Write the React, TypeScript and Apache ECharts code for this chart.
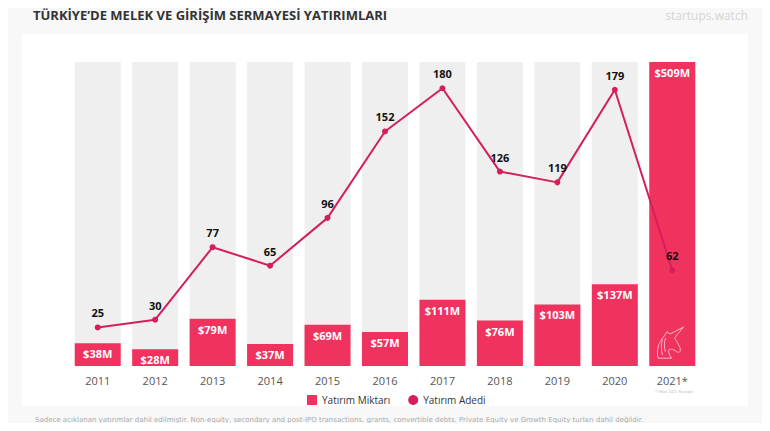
import React, { useEffect, useRef } from "react";
import * as echarts from "echarts";

const years = ["2011", "2012", "2013", "2014", "2015", "2016", "2017", "2018", "2019", "2020", "2021*"];
const amounts = [38, 28, 79, 37, 69, 57, 111, 76, 103, 137, 509];
const counts = [25, 30, 77, 65, 96, 152, 180, 126, 119, 179, 62];

const unicorn =
  "M4 40 C2 30 4 20 12 12 L16 6 L20 9 L38 0 L26 14 C30 20 34 26 34 30 C33 33 30 33 28 31 C24 28 20 28 18 30 C18 34 20 37 22 40 Z M10 16 C8 22 8 30 10 36 M14 14 C12 20 12 26 14 32";

export default function App() {
  const ref = useRef<HTMLDivElement>(null);
  useEffect(() => {
    if (!ref.current) return;
    try {
      echarts.graphic.registerShape("unicorn", echarts.graphic.extendPath(unicorn, {}) as any);
    } catch (e) {}
    const chart = echarts.init(ref.current, null, { renderer: "svg" });
    chart.setOption({
      animation: false,
      backgroundColor: "#f8f8f8",
      textStyle: { fontFamily: "Open Sans, sans-serif" },
      grid: { left: 69, right: 69, top: 62, bottom: 65 },
      legend: {
        left: 302,
        top: 390,
        itemWidth: 10,
        itemHeight: 10,
        itemGap: 18,
        textStyle: { color: "#333", fontSize: 10, fontFamily: "Open Sans, sans-serif" },
        data: [
          { name: "Yatırım Miktarı", icon: "rect" },
          { name: "Yatırım Adedi", icon: "circle" },
        ],
      },
      xAxis: {
        type: "category",
        data: years,
        axisLine: { show: false },
        axisTick: { show: false },
        axisLabel: { color: "#555", fontSize: 11, margin: 9 },
      },
      yAxis: [
        { type: "value", min: 0, max: 509, show: false, splitLine: { show: false } },
        { type: "value", min: 0, max: 197, show: false, splitLine: { show: false } },
      ],
      series: [
        {
          name: "Yatırım Miktarı",
          type: "bar",
          data: amounts,
          barWidth: 46,
          itemStyle: { color: "#f0325f" },
          showBackground: true,
          backgroundStyle: { color: "#efefef" },
          label: {
            show: true,
            position: "insideTop",
            distance: 5,
            color: "#fff",
            fontWeight: "bold",
            fontSize: 11,
            formatter: (p: any) => "$" + p.value + "M",
          },
        },
        {
          name: "Yatırım Adedi",
          type: "line",
          yAxisIndex: 1,
          data: counts,
          symbol: "circle",
          symbolSize: 6,
          lineStyle: { color: "#d41f58", width: 2 },
          itemStyle: { color: "#d41f58" },
          label: {
            show: true,
            position: "top",
            distance: 6,
            color: "#111",
            fontWeight: "bold",
            fontSize: 11,
          },
        },
      ],
      graphic: [
        {
          type: "rect",
          z: -10,
          shape: { x: 22, y: 34, width: 726, height: 372 },
          style: { fill: "#ffffff" },
        },
        {
          type: "text",
          left: 33,
          top: 8,
          style: {
            text: "TÜRKİYE’DE MELEK VE GİRİŞİM SERMAYESİ YATIRIMLARI",
            fill: "#333",
            font: "bold 13px 'Open Sans', sans-serif",
          },
        },
        {
          type: "text",
          right: 22,
          top: 9,
          style: { text: "startups.watch", fill: "#d4d4d4", font: "12px 'Open Sans', sans-serif" },
        },
        {
          type: "unicorn",
          z: 100,
          x: 655,
          y: 327,
          scaleX: 0.75,
          scaleY: 0.78,
          style: { fill: "none", stroke: "#ffdbe4", lineWidth: 1 },
        } as any,
        {
          type: "text",
          left: 655,
          top: 389,
          z: 100,
          style: { text: "© Mart 2021 Startups", fill: "#bbb", font: "4px sans-serif" },
        },
        {
          type: "text",
          left: 35,
          top: 416,
          style: {
            text:
              "Sadece açıklanan yatırımlar dahil edilmiştir. Non-equity, secondary and post-IPO transactions, grants, convertible debts, Private Equity ve Growth Equity turları dahil değildir.",
            fill: "#aaa",
            font: "7px 'DejaVu Sans', sans-serif",
          },
        },
      ],
    });
    return () => chart.dispose();
  }, []);
  return <div ref={ref} style={{ width: 770, height: 431, margin: -8 }} />;
}
